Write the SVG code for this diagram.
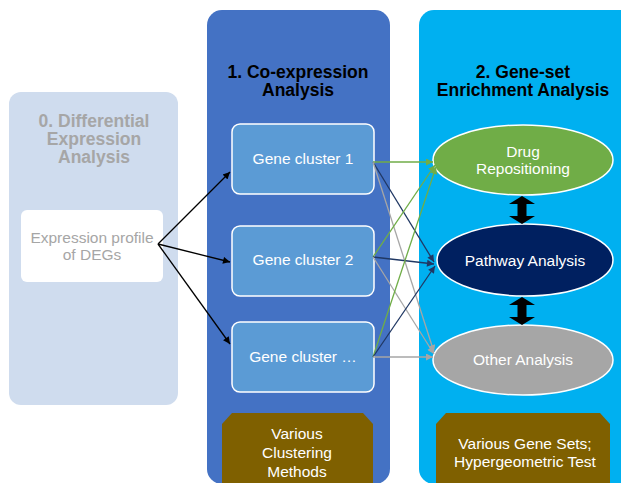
<svg xmlns="http://www.w3.org/2000/svg" width="621" height="483" viewBox="0 0 621 483">
<defs>
<style>
text{font-family:"Liberation Sans",Arial,sans-serif;text-anchor:middle}
.t{font-size:17.5px;font-weight:bold}
.n{font-size:15.5px}
.w{fill:#FFFFFF}
.g{fill:#A6A6A6}
.cl{fill:#5B9BD5;stroke:#FFFFFF;stroke-width:1.5}
.el{stroke:#FFFFFF;stroke-width:1.5}
.oct{fill:#7F6000}
.c{fill:none;stroke-width:1.3}
</style>
<marker id="mk" viewBox="0 0 10 10" refX="10" refY="5" markerWidth="9" markerHeight="7" markerUnits="userSpaceOnUse" orient="auto"><path d="M0,0L10,5L0,10z" fill="#000000"/></marker>
<marker id="mg" viewBox="0 0 10 10" refX="10" refY="5" markerWidth="9" markerHeight="7" markerUnits="userSpaceOnUse" orient="auto"><path d="M0,0L10,5L0,10z" fill="#70AD47"/></marker>
<marker id="mn" viewBox="0 0 10 10" refX="10" refY="5" markerWidth="9" markerHeight="7" markerUnits="userSpaceOnUse" orient="auto"><path d="M0,0L10,5L0,10z" fill="#203864"/></marker>
<marker id="ma" viewBox="0 0 10 10" refX="10" refY="5" markerWidth="9" markerHeight="7" markerUnits="userSpaceOnUse" orient="auto"><path d="M0,0L10,5L0,10z" fill="#A6A6A6"/></marker>
</defs>
<rect width="621" height="483" fill="#FFFFFF"/>

<g id="panel-0">
<rect x="9" y="92" width="169" height="313" rx="12" fill="#CFDCEE"/>
<text class="t g" x="94" y="127">0. Differential</text>
<text class="t g" x="94" y="145">Expression</text>
<text class="t g" x="94" y="163">Analysis</text>
</g>
<g id="node-deg">
<rect x="21" y="210" width="142" height="72" rx="6" fill="#FFFFFF"/>
<text class="n g" x="92" y="243">Expression profile</text>
<text class="n g" x="92" y="260">of DEGs</text>
</g>

<g id="panel-1">
<rect x="207" y="10" width="183" height="474" rx="15" fill="#4472C4"/>
<text class="t" x="298" y="78">1. Co-expression</text>
<text class="t" x="298" y="96">Analysis</text>
</g>
<g id="node-cluster1">
<rect class="cl" x="232" y="124" width="142" height="70" rx="8"/>
<text class="n w" x="303" y="164">Gene cluster 1</text>
</g>
<g id="node-cluster2">
<rect class="cl" x="232" y="226" width="142" height="70" rx="8"/>
<text class="n w" x="303" y="265">Gene cluster 2</text>
</g>
<g id="node-cluster3">
<rect class="cl" x="232" y="322" width="142" height="70" rx="8"/>
<text class="n w" x="303" y="362">Gene cluster …</text>
</g>
<g id="node-clustering-methods">
<polygon class="oct" points="232,413 363,413 373,424 373,490 222,490 222,424"/>
<text class="n w" x="297" y="439">Various</text>
<text class="n w" x="297" y="458">Clustering</text>
<text class="n w" x="297" y="477">Methods</text>
</g>

<g id="panel-2">
<rect x="419" y="10" width="220" height="474" rx="15" fill="#00B0F0"/>
<text class="t" x="523" y="78">2. Gene-set</text>
<text class="t" x="523" y="96">Enrichment Analysis</text>
</g>
<g id="node-drug">
<ellipse class="el" cx="523" cy="160" rx="90" ry="35" fill="#70AD47"/>
<text class="n w" x="523" y="157">Drug</text>
<text class="n w" x="523" y="174">Repositioning</text>
</g>
<g id="node-pathway">
<ellipse class="el" cx="525" cy="260" rx="88" ry="36" fill="#002060"/>
<text class="n w" x="525" y="266">Pathway Analysis</text>
</g>
<g id="node-other">
<ellipse class="el" cx="523" cy="360" rx="90" ry="35" fill="#A6A6A6"/>
<text class="n w" x="523" y="365">Other Analysis</text>
</g>
<g id="node-gene-sets">
<polygon class="oct" points="446,413 600,413 610,424 610,490 436,490 436,424"/>
<text class="n w" x="525" y="449">Various Gene Sets;</text>
<text class="n w" x="525" y="467">Hypergeometric Test</text>
</g>

<g id="connectors">
<line class="c" stroke="#000000" x1="158" y1="244" x2="230" y2="172" marker-end="url(#mk)"/>
<line class="c" stroke="#000000" x1="158" y1="244" x2="230" y2="262" marker-end="url(#mk)"/>
<line class="c" stroke="#000000" x1="158" y1="244" x2="230" y2="344" marker-end="url(#mk)"/>

<line class="c" stroke="#70AD47" x1="373" y1="162" x2="433" y2="162" marker-end="url(#mg)"/>
<line class="c" stroke="#203864" x1="373" y1="162" x2="434" y2="262" marker-end="url(#mn)"/>
<line class="c" stroke="#A6A6A6" x1="373" y1="162" x2="434" y2="352" marker-end="url(#ma)"/>

<line class="c" stroke="#70AD47" x1="373" y1="257" x2="435" y2="165" marker-end="url(#mg)"/>
<line class="c" stroke="#203864" x1="373" y1="257" x2="434" y2="264" marker-end="url(#mn)"/>
<line class="c" stroke="#A6A6A6" x1="373" y1="257" x2="434" y2="354" marker-end="url(#ma)"/>

<line class="c" stroke="#70AD47" x1="373" y1="357" x2="436" y2="167" marker-end="url(#mg)"/>
<line class="c" stroke="#203864" x1="373" y1="357" x2="435" y2="266" marker-end="url(#mn)"/>
<line class="c" stroke="#A6A6A6" x1="373" y1="357" x2="433" y2="357" marker-end="url(#ma)"/>

<polygon fill="#000000" points="522,196 535,204 526.5,204 526.5,216 535,216 522,224 509,216 517.5,216 517.5,204 509,204"/>
<polygon fill="#000000" points="522,297 535,305 526.5,305 526.5,317 535,317 522,325 509,317 517.5,317 517.5,305 509,305"/>
</g>
</svg>
